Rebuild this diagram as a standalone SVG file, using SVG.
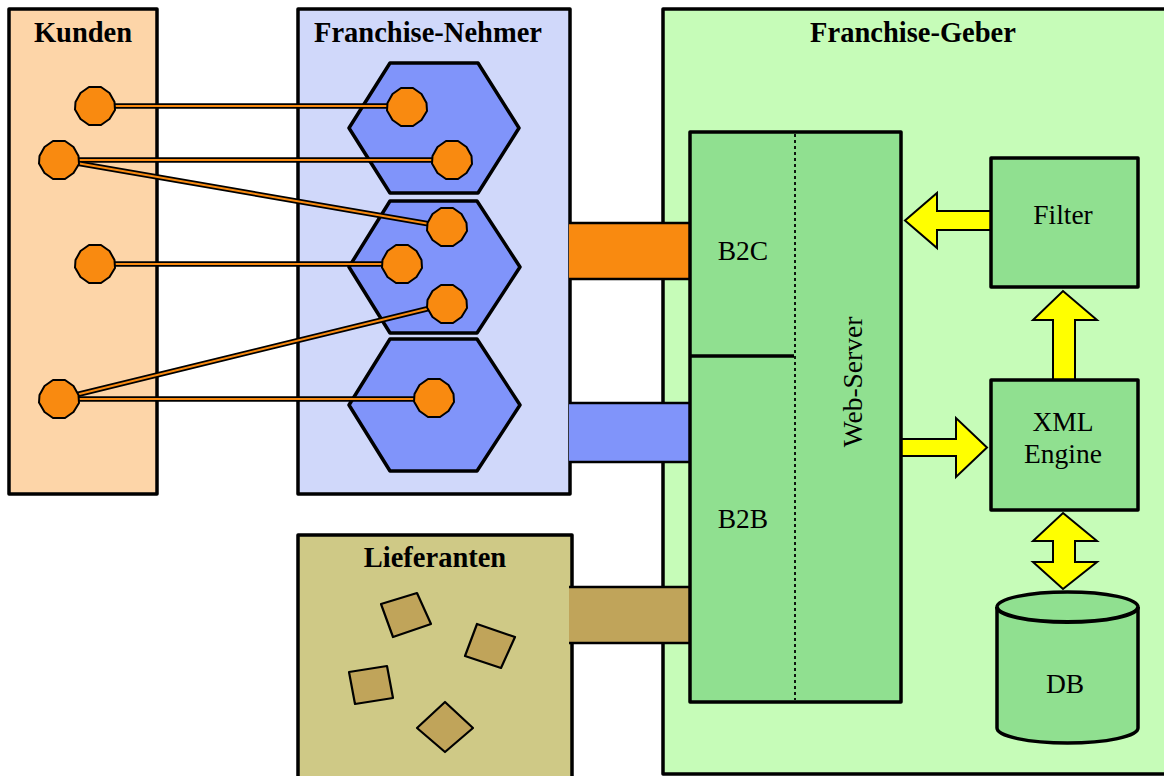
<svg xmlns="http://www.w3.org/2000/svg" width="1164" height="776" viewBox="0 0 1164 776">
<style>
.box{stroke:#000;stroke-width:3.5;stroke-linejoin:round}
.title{font-family:"Liberation Serif","Times New Roman",serif;font-weight:bold;font-size:28.5px;text-anchor:middle;fill:#000}
.lbl{font-family:"Liberation Serif","Times New Roman",serif;font-size:27.5px;text-anchor:middle;fill:#000}
.hex{fill:#8094FA;stroke:#000;stroke-width:3.5;stroke-linejoin:round}
.blob{fill:#F98A10;stroke:#000;stroke-width:2;stroke-linejoin:round}
.lo{stroke:#000;stroke-width:5.5;fill:none}
.li{stroke:#F98A10;stroke-width:2;fill:none}
.arr{fill:#FFFF00;stroke:#000;stroke-width:2;stroke-linejoin:miter}
.sq{fill:#C0A45A;stroke:#000;stroke-width:2.2;stroke-linejoin:round}
.green{fill:#90E090}
</style>
<defs>
<path id="blobshape" d="M-6,-19 L6,-19 L14.5,-13 L19.5,-4 L20,4 L14.5,13 L6,19 L-6,19 L-14.5,13 L-20,3.5 L-19.5,-4 L-14.5,-13 Z"/>
</defs>
<rect width="1164" height="776" fill="#fff"/>

<g id="kunden">
<rect class="box" x="9" y="9" width="148" height="485" fill="#FDD5A8"/>
<text class="title" x="83" y="42">Kunden</text>
</g>
<g id="franchise-nehmer">
<rect class="box" x="298" y="9" width="272" height="485" fill="#D0D8FA"/>
<text class="title" x="428" y="42">Franchise-Nehmer</text>
</g>
<g id="franchise-geber">
<rect class="box" x="663" y="9" width="510" height="765" fill="#C6FCB8"/>
<text class="title" x="913" y="42">Franchise-Geber</text>
</g>
<g id="lieferanten">
<rect class="box" x="298" y="535" width="274" height="250" fill="#CFC986"/>
<text class="title" x="435" y="567">Lieferanten</text>
<polygon class="sq" points="381,604 417,593 431,624 393,637"/>
<polygon class="sq" points="477,624 515,637 501,668 465,656"/>
<polygon class="sq" points="349,672 387,666 393,698 355,704"/>
<polygon class="sq" points="445,702 473,728 445,752 417,728"/>
</g>

<g id="hex1"><polygon class="hex" points="390,63 478,63 519,128 478,193 390,193 349,128"/></g>
<g id="hex2"><polygon class="hex" points="390,201 477,201 520,267 477,333 390,333 349,267"/></g>
<g id="hex3"><polygon class="hex" points="390,339 477,339 520,405 477,471 390,471 349,405"/></g>

<g id="connectors">
<rect x="569" y="223" width="121" height="56" fill="#F98A10"/>
<line x1="569" y1="223" x2="690" y2="223" stroke="#000" stroke-width="2.5"/>
<line x1="569" y1="279" x2="690" y2="279" stroke="#000" stroke-width="2.5"/>
<rect x="569" y="403" width="121" height="59" fill="#8094FA"/>
<line x1="569" y1="403" x2="690" y2="403" stroke="#000" stroke-width="2.5"/>
<line x1="569" y1="462" x2="690" y2="462" stroke="#000" stroke-width="2.5"/>
<rect x="569" y="587" width="121" height="56" fill="#C0A45A"/>
<line x1="569" y1="587" x2="690" y2="587" stroke="#000" stroke-width="2.5"/>
<line x1="569" y1="643" x2="690" y2="643" stroke="#000" stroke-width="2.5"/>

<g>
<line class="lo" x1="95" y1="106" x2="407" y2="106"/>
<line class="lo" x1="59" y1="160" x2="452" y2="160"/>
<line class="lo" x1="59" y1="160" x2="447" y2="227"/>
<line class="lo" x1="95" y1="264" x2="402" y2="264"/>
<line class="lo" x1="59" y1="399" x2="447" y2="304"/>
<line class="lo" x1="59" y1="399" x2="434" y2="399"/>
<line class="li" x1="95" y1="106" x2="407" y2="106"/>
<line class="li" x1="59" y1="160" x2="452" y2="160"/>
<line class="li" x1="59" y1="160" x2="447" y2="227"/>
<line class="li" x1="95" y1="264" x2="402" y2="264"/>
<line class="li" x1="59" y1="399" x2="447" y2="304"/>
<line class="li" x1="59" y1="399" x2="434" y2="399"/>
</g>

<path class="arr" d="M991,211 H937 V193 L905,220.5 L937,248 V230 H991"/>
<path class="arr" d="M1053,381 V320 H1033 L1063,291 L1097,320 H1075 V381"/>
<path class="arr" d="M900,439 H956 V418 L987,447.5 L956,477 V456 H900"/>
<path class="arr" d="M1063,513 L1097,541 H1075 V562 H1097 L1063,589 L1033,562 H1053 V541 H1033 Z"/>
</g>

<g id="blobs">
<use href="#blobshape" class="blob" x="95" y="106"/>
<use href="#blobshape" class="blob" x="59" y="160"/>
<use href="#blobshape" class="blob" x="95" y="264"/>
<use href="#blobshape" class="blob" x="59" y="399"/>
<use href="#blobshape" class="blob" x="407" y="107"/>
<use href="#blobshape" class="blob" x="452" y="160"/>
<use href="#blobshape" class="blob" x="447" y="227"/>
<use href="#blobshape" class="blob" x="402" y="264"/>
<use href="#blobshape" class="blob" x="447" y="304"/>
<use href="#blobshape" class="blob" x="434" y="398"/>
</g>

<g id="web-server">
<rect class="box green" x="690" y="132" width="211" height="570"/>
<line x1="690" y1="356" x2="794" y2="356" stroke="#000" stroke-width="3.5"/>
<line x1="795" y1="134" x2="795" y2="700" stroke="#000" stroke-width="1.8" stroke-dasharray="3,3"/>
<text class="lbl" x="743" y="260">B2C</text>
<text class="lbl" x="743" y="528">B2B</text>
<text class="lbl" transform="translate(862,382) rotate(-90)">Web-Server</text>
</g>

<g id="filter">
<rect class="box green" x="991" y="158" width="147" height="129"/>
<text class="lbl" x="1063" y="224">Filter</text>
</g>
<g id="xml-engine">
<rect class="box green" x="991" y="380" width="147" height="130"/>
<text class="lbl" x="1063" y="431">XML</text>
<text class="lbl" x="1063" y="463">Engine</text>
</g>
<g id="db">
<path class="box green" d="M997,607 V728 A70.5,15 0 0 0 1138,728 V607 A70.5,15 0 0 0 997,607 Z" stroke-width="4"/>
<path d="M997,607 A70.5,15 0 0 0 1138,607" fill="none" stroke="#000" stroke-width="4"/>
<text class="lbl" x="1065" y="693">DB</text>
</g>
</svg>
